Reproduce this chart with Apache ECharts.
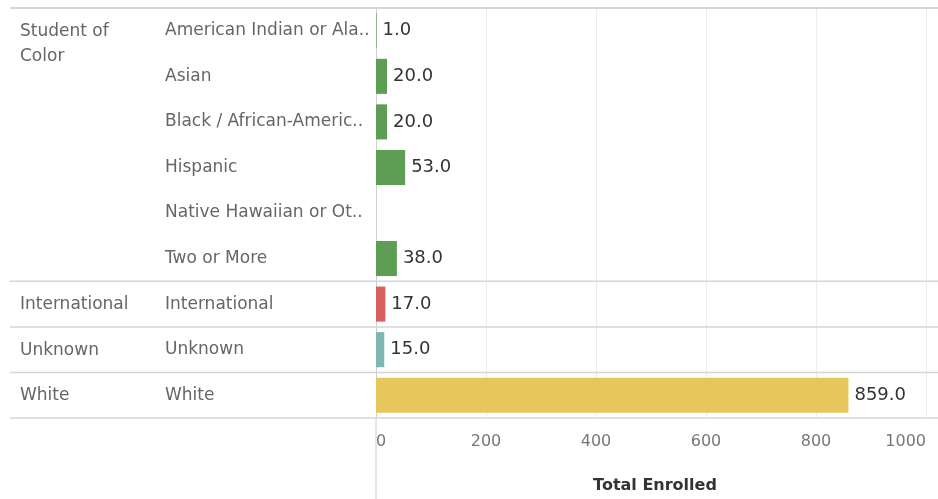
<!DOCTYPE html>
<html>
<head>
<meta charset="utf-8">
<script src="https://cdn.jsdelivr.net/npm/echarts@6/dist/echarts.min.js"></script>
<style>
  html, body { margin: 0; padding: 0; background: #fff; }
  #chart { width: 938px; height: 499px; }
</style>
</head>
<body>
<div id="chart"></div>
<script>
// row labels as shown (Tableau truncates long names)
var categories = [
    'American Indian or Ala..',
    'Asian',
    'Black / African-Americ..',
    'Hispanic',
    'Native Hawaiian or Ot..',
    'Two or More',
    'International',
    'Unknown',
    'White'
];
var groups = [
    'Student of Color', 'Student of Color', 'Student of Color', 'Student of Color',
    'Student of Color', 'Student of Color', 'International', 'Unknown', 'White'
];
var enrolled = [1, 20, 20, 53, null, 38, 17, 15, 859];
var groupLabels = { 'Student of Color': 'Student of\nColor', 'International': 'International', 'Unknown': 'Unknown', 'White': 'White' };
var groupColors = { 'Student of Color': '#5e9e54', 'International': '#d9605c', 'Unknown': '#7fb5b3', 'White': '#e6c75c' };

var FONT = '"DejaVu Sans", sans-serif';
var chart = echarts.init(document.getElementById('chart'));

var option = {
    animation: false,
    grid: { left: 376, right: 12, top: 8, bottom: 81 },
    xAxis: {
        type: 'value',
        min: 0,
        max: 1000,
        interval: 200,
        name: 'Total Enrolled',
        nameLocation: 'middle',
        nameGap: 60,
        nameTextStyle: { fontFamily: FONT, fontSize: 16, fontWeight: 'bold', color: '#333', padding: [0, 0, 0, 8] },
        axisLine: { show: false },
        axisTick: { show: false },
        axisLabel: {
            margin: 16,
            fontFamily: FONT, fontSize: 16, color: '#777',
            alignMinLabel: 'left', alignMaxLabel: 'right',
            formatter: function (v) { return String(v); }
        },
        splitLine: { show: true, lineStyle: { color: '#ececec', width: 1 } }
    },
    yAxis: {
        type: 'category',
        data: categories,
        inverse: true,
        axisLine: { show: true, lineStyle: { color: '#cfcfcf', width: 1 } },
        axisTick: { show: false },
        splitLine: { show: false },
        axisLabel: {
            align: 'left',
            margin: 211,
            fontFamily: FONT, fontSize: 17, color: '#666',
            padding: [2, 0, 0, 0]
        }
    },
    series: [{
        type: 'bar',
        barCategoryGap: '23%',
        data: enrolled.map(function (v, i) {
            return { value: v, itemStyle: { color: groupColors[groups[i]] } };
        }),
        label: {
            show: true,
            position: 'right',
            distance: 6,
            fontFamily: FONT, fontSize: 18, color: '#333',
            formatter: function (p) { return p.value == null ? '' : Number(p.value).toFixed(1); }
        }
    }]
};
chart.setOption(option);

// group headers and separators, placed from the category axis
function rowY(i) { return chart.convertToPixel({ yAxisIndex: 0 }, categories[i]); }
var band = rowY(1) - rowY(0);
var graphics = [];
var sepLine = function (y, w, c) {
    return { type: 'line', shape: { x1: 10, y1: y, x2: 938, y2: y }, style: { stroke: c, lineWidth: w }, z: 10 };
};
graphics.push(sepLine(rowY(0) - band / 2, 2, '#d6d6d6'));
for (var i = 0; i < categories.length; i++) {
    if (i === 0 || groups[i] !== groups[i - 1]) {
        graphics.push({
            type: 'text',
            left: 20,
            top: rowY(i) - 12,
            style: { text: groupLabels[groups[i]], font: '17px ' + FONT, fill: '#666', lineHeight: 25 }
        });
    }
    if (i === categories.length - 1 || groups[i] !== groups[i + 1]) {
        graphics.push(sepLine(rowY(i) + band / 2, 1.5, '#d6d6d6'));
    }
}
var bottomY = rowY(categories.length - 1) + band / 2;
graphics.push({ type: 'line', shape: { x1: 376, y1: bottomY, x2: 376, y2: 499 }, style: { stroke: '#cfcfcf', lineWidth: 1 } });
chart.setOption({ graphic: graphics });
</script>
</body>
</html>
